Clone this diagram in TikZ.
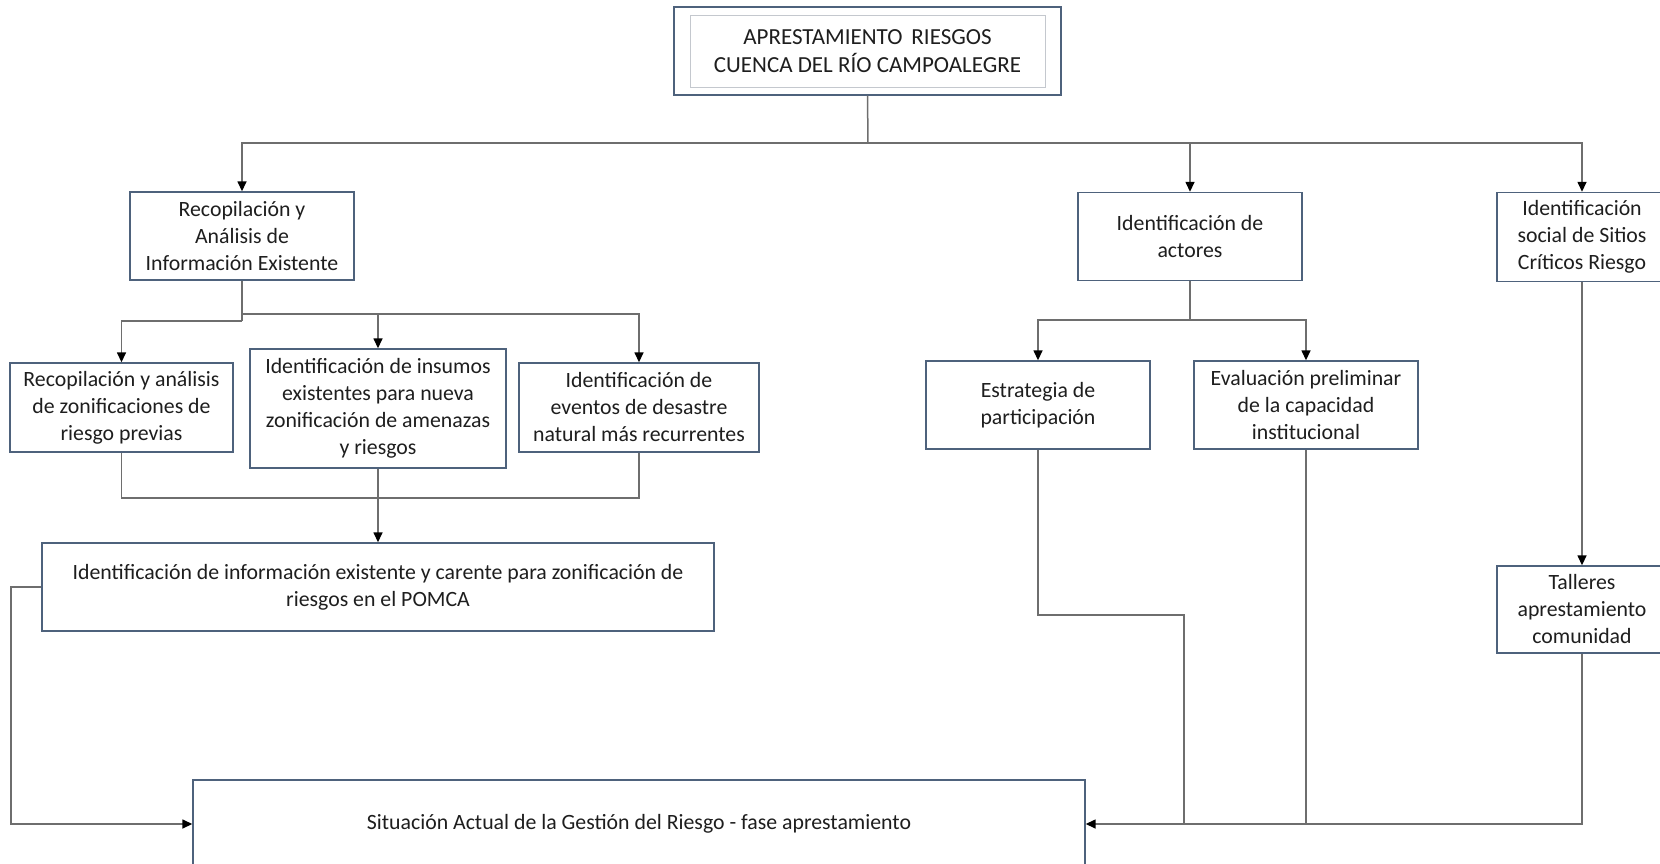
\documentclass[tikz,border=0pt]{standalone}
\usepackage{fontspec}
\setmainfont{Carlito}
\usetikzlibrary{arrows.meta}
\definecolor{boxline}{RGB}{78,98,124}
\definecolor{innerline}{RGB}{196,200,206}
\definecolor{linkgray}{RGB}{110,110,110}
\definecolor{txt}{RGB}{30,30,30}
\tikzset{box/.style={draw=boxline, line width=1.4pt, fill=white, align=center, inner sep=0pt, text=txt, font=\fontsize{21.8}{27}\selectfont},
 link/.style={linkgray, line width=1.5pt},
 arrow/.style={link, -{Triangle[length=10pt,width=9pt,color=black]}}}

\begin{document}
\begin{tikzpicture}[x=1pt,y=-1pt]
  \useasboundingbox (0,0) rectangle (1660,864);
  % main title
  \node[box, minimum width=387, minimum height=88, font=\fontsize{23}{28}\selectfont] (top) at (867.5,51) {APRESTAMIENTO\, RIESGOS\\CUENCA DEL RÍO CAMPOALEGRE};
  \draw[innerline, line width=1.2pt] ([shift={(17,9)}]top.north west) rectangle ([shift={(-16,-8)}]top.south east);
  % first level
  \node[box, minimum width=224, minimum height=88] (rec) at (242,236) {Recopilación y\\Análisis de\\Información Existente};
  \node[box, minimum width=224, minimum height=88] (act) at (1190,236.5) {Identificación de\\actores};
  \node[box, minimum width=170, minimum height=89] (soc) at (1582,237) {Identificación\\social de Sitios\\Críticos Riesgo};
  % second level
  \node[box, minimum width=223, minimum height=89] (zon) at (121.5,407.5) {Recopilación y análisis\\de zonificaciones de\\riesgo previas};
  \node[box, minimum width=256, minimum height=119] (ins) at (378,408.5) {Identificación de insumos\\existentes para nueva\\zonificación de amenazas\\y riesgos};
  \node[box, minimum width=240, minimum height=89] (eve) at (639,407.5) {Identificación de\\eventos de desastre\\natural más recurrentes};
  \node[box, minimum width=224, minimum height=88] (est) at (1038,405) {Estrategia de\\participación};
  \node[box, minimum width=224, minimum height=88] (eva) at (1306,405) {Evaluación preliminar\\de la capacidad\\institucional};
  \node[box, minimum width=672, minimum height=88] (pom) at (378,587) {Identificación de información existente y carente para zonificación de\\riesgos en el POMCA};
  \node[box, minimum width=170, minimum height=87] (tal) at (1582,609.5) {Talleres\\aprestamiento\\comunidad};
  \node[box, minimum width=892, minimum height=88] (sit) at (639,824) {Situación Actual de la Gestión del Riesgo - fase aprestamiento};
  % junctions
  \coordinate (j0) at (868,143);
  \coordinate (j1) at (242,314);
  \coordinate (j1b) at (242,321);
  \coordinate (j2) at (378,498);
  \coordinate (j3) at (1190,320);
  \coordinate (k1) at (1184,615);
  \coordinate (lft) at (11,824);
  % connectors
  \draw[link] (top.south) -- (j0);
  \draw[arrow] (j0) -| (rec.north);
  \draw[arrow] (j0) -| (act.north);
  \draw[arrow] (j0) -| (soc.north);
  \draw[link] (rec.south) -- (j1b);
  \draw[arrow] (j1b) -| (zon.north);
  \draw[arrow] (j1) -| (ins.north);
  \draw[arrow] (j1) -| (eve.north);
  \draw[link] (zon.south) |- (j2) -| (eve.south);
  \draw[arrow] (ins.south) -- (pom.north);
  \draw[arrow] (pom.west) -| (lft) -- (sit.west);
  \draw[link] (act.south) -- (j3);
  \draw[arrow] (j3) -| (est.north);
  \draw[arrow] (j3) -| (eva.north);
  \draw[arrow] (soc.south) -- (tal.north);
  \draw[link] (est.south) |- (k1) -- (k1 |- sit.east);
  \draw[link] (eva.south) -- (eva.south |- sit.east);
  \draw[arrow] (tal.south) |- (sit.east);
\end{tikzpicture}
\end{document}
